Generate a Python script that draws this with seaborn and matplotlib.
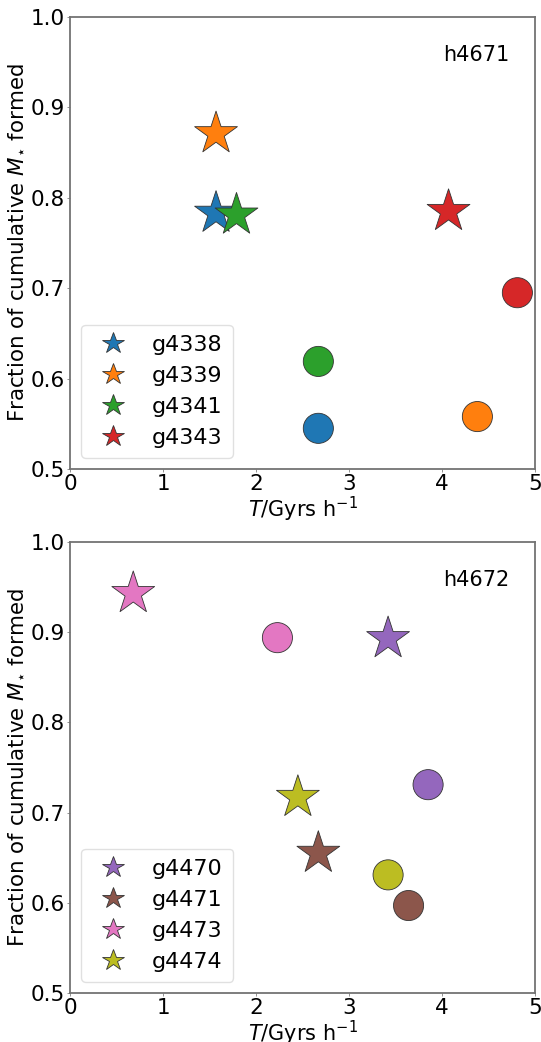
import matplotlib
matplotlib.use("Agg")
import matplotlib.pyplot as plt
import seaborn as sns
import pandas as pd

# Halo h4671
galaxies_a = ["g4338", "g4339", "g4341", "g4343"]
colors_a = ["#1f77b4", "#ff7f0e", "#2ca02c", "#d62728"]
star_t_a = [1.57, 1.57, 1.79, 4.07]
star_f_a = [0.783, 0.871, 0.781, 0.785]
circ_t_a = [2.67, 4.38, 2.67, 4.81]
circ_f_a = [0.545, 0.558, 0.619, 0.695]

# Halo h4672
galaxies_b = ["g4470", "g4471", "g4473", "g4474"]
colors_b = ["#9467bd", "#8c564b", "#e377c2", "#bcbd22"]
star_t_b = [3.42, 2.67, 0.68, 2.45]
star_f_b = [0.893, 0.655, 0.943, 0.717]
circ_t_b = [3.85, 3.64, 2.23, 3.42]
circ_f_b = [0.731, 0.597, 0.894, 0.631]

halos = ["h4671", "h4672"]
x_ticks = [0, 1, 2, 3, 4, 5]
y_ticks = [0.5, 0.6, 0.7, 0.8, 0.9, 1.0]

fig = plt.figure(figsize=(5.41, 10.42), dpi=100)
ax_top = fig.add_axes([0.1294, 0.5499, 0.8596, 0.4338])
ax_bot = fig.add_axes([0.1294, 0.0470, 0.8596, 0.4328])

panels = [
    (ax_top, halos[0], galaxies_a, colors_a, star_t_a, star_f_a, circ_t_a, circ_f_a),
    (ax_bot, halos[1], galaxies_b, colors_b, star_t_b, star_f_b, circ_t_b, circ_f_b),
]

for ax, halo, gals, cols, st, sf, ct, cf in panels:
    stars = pd.DataFrame({"T": st, "frac": sf, "gal": gals})
    circles = pd.DataFrame({"T": ct, "frac": cf, "gal": gals})
    pal = dict(zip(gals, cols))
    sns.scatterplot(data=stars, x="T", y="frac", hue="gal", palette=pal,
                    marker="*", s=1050, edgecolor="#333333", linewidth=0.6,
                    ax=ax, legend=True, zorder=3)
    sns.scatterplot(data=circles, x="T", y="frac", hue="gal", palette=pal,
                    marker="o", s=470, edgecolor="#333333", linewidth=0.6,
                    ax=ax, legend=False, zorder=3)
    ax.set_xlim(0, 5)
    ax.set_ylim(0.5, 1.0)
    ax.set_xticks(x_ticks)
    ax.set_yticks(y_ticks)
    ax.set_xticklabels([str(v) for v in x_ticks])
    ax.set_yticklabels([f"{v:.1f}" for v in y_ticks])
    ax.tick_params(labelsize=15.5, length=2, width=0.6, color="0.5", pad=1.5)
    for sp in ax.spines.values():
        sp.set_color("0.45")
        sp.set_linewidth(1.3)
    ax.set_xlabel(r"$T$/Gyrs h$^{-1}$", fontsize=15, labelpad=1)
    ax.set_ylabel(r"Fraction of cumulative $M_{\star}$ formed", fontsize=15.4,
                  labelpad=3)
    ax.text(0.873, 0.915, halo, transform=ax.transAxes, fontsize=15,
            ha="center", va="center")
    handles, labels = ax.get_legend_handles_labels()
    ax.legend(handles, labels, loc="lower left", fontsize=16, markerscale=0.5,
              handletextpad=0.75, borderpad=0.45, labelspacing=0.5,
              framealpha=0.8, edgecolor="0.85")

fig.savefig("out.png", dpi=100)
